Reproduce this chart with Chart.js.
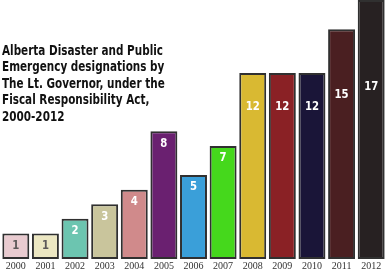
<!DOCTYPE html>
<html>
<head>
<meta charset="utf-8">
<script src="https://cdn.jsdelivr.net/npm/chart.js@4"></script>
<style>
  body { margin: 0; background: #fff; }
  #wrap { width: 386px; height: 273px; position: relative; }
</style>
</head>
<body>
<div id="wrap"><canvas id="grafico"></canvas></div>
<script>
// dados
const anos = ["2000","2001","2002","2003","2004","2005","2006","2007","2008","2009","2010","2011","2012"];
const designacoes = [1, 1, 2, 3, 4, 8, 5, 7, 12, 12, 12, 15, 17];
const cores = ["#e9cbd0","#ece7c2","#6cc5b0","#c9c59c","#d08a8b","#6a2070","#3a9fd9","#45d81c","#d9b932","#8a2125","#1a1538","#4a1f21","#272122"];
const titulo = ["Alberta Disaster and Public", "Emergency designations by", "The Lt. Governor, under the", "Fiscal Responsibility Act,", "2000-2012"];

const baseY = -0.75;

// texto "condensado" (sem fonte narrow instalada)
function textoEstreito(ctx, texto, x, y, escala) {
  ctx.save();
  ctx.translate(x, y);
  ctx.scale(escala, 1);
  ctx.fillText(texto, 0, 0);
  ctx.restore();
}

// plugin para rótulos e título
const rotulos = {
  id: "rotulos",
  afterDatasetsDraw(chart) {
    const ctx = chart.ctx;
    const area = chart.chartArea;
    ctx.save();
    ctx.textAlign = "center";
    ctx.textBaseline = "middle";
    ctx.font = 'bold 13px "DejaVu Sans", sans-serif';
    chart.getDatasetMeta(0).data.forEach((bar, i) => {
      const top = bar.y - area.top;
      const y = area.top + Math.max(top + 12, 87 + 0.27 * top);
      ctx.fillStyle = designacoes[i] < 2 ? "#5c5858" : "#ffffff";
      textoEstreito(ctx, designacoes[i], bar.x, y, 0.78);
    });
    ctx.textAlign = "left";
    ctx.fillStyle = "#111";
    ctx.font = 'bold 14px "DejaVu Sans", sans-serif';
    const largura = ctx.measureText(titulo[0]).width;
    const escala = 161 / largura;
    titulo.forEach((linha, i) => {
      textoEstreito(ctx, linha, 2, 51 + i * 16.6, escala);
    });
    ctx.restore();
  }
};

new Chart(document.getElementById("grafico"), {
  type: "bar",
  data: {
    labels: anos,
    datasets: [{
      data: designacoes,
      base: baseY,
      backgroundColor: cores,
      borderColor: "#303030",
      borderWidth: 2,
      borderSkipped: false,
      barPercentage: 0.91,
      categoryPercentage: 1
    }]
  },
  options: {
    responsive: true,
    maintainAspectRatio: false,
    animation: false,
    layout: { padding: { left: 1, right: 0, top: 0, bottom: 0 } },
    scales: {
      y: {
        display: false,
        min: baseY,
        max: 17
      },
      x: {
        grid: { display: false, drawTicks: false },
        border: { display: false },
        ticks: {
          padding: 1,
          color: "#333",
          font: { family: '"Liberation Serif", "Times New Roman", serif', size: 10 },
          maxRotation: 0,
          autoSkip: false
        }
      }
    },
    plugins: {
      legend: { display: false },
      tooltip: { enabled: false }
    }
  },
  plugins: [rotulos]
});
</script>
</body>
</html>
